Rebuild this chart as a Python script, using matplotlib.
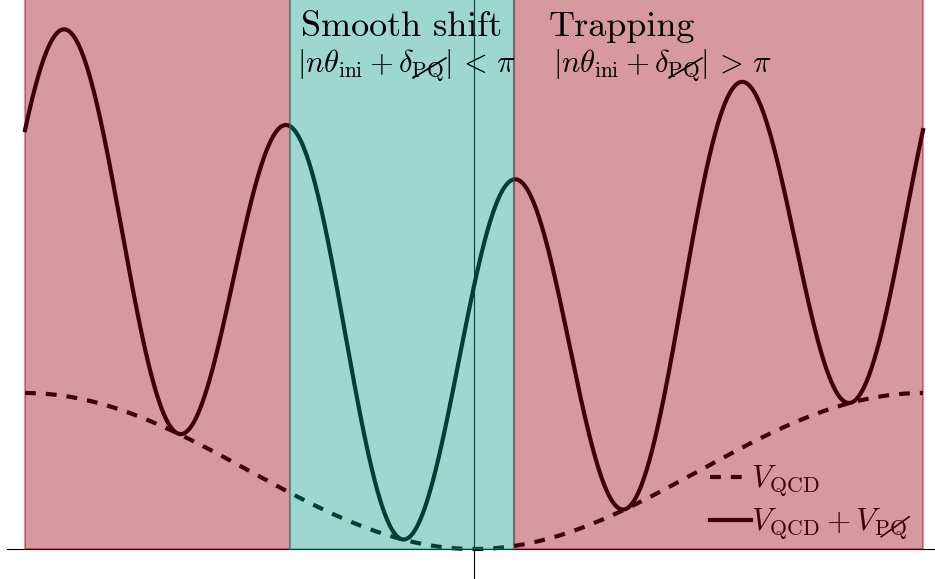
import numpy as np
import matplotlib
matplotlib.use('Agg')
import matplotlib.pyplot as plt
from matplotlib.lines import Line2D
from matplotlib.patches import Rectangle
from matplotlib.transforms import IdentityTransform

plt.rcParams['mathtext.fontset'] = 'cm'
plt.rcParams['font.family'] = 'cmr10'
plt.rcParams['axes.unicode_minus'] = False

# potential: V_QCD = 1 - cos(theta), V_PQ = A (1 - cos(n theta + delta))
n = 4
delta_pq = 2.02
amp_pq = 2.35
theta = np.linspace(-np.pi, np.pi, 3000)
v_qcd = 1 - np.cos(theta)
v_tot = v_qcd + amp_pq * (1 - np.cos(n * theta + delta_pq))

# regions: smooth shift where |n theta + delta| < pi, trapping elsewhere
edges = [-np.pi, (-np.pi - delta_pq) / n, (np.pi - delta_pq) / n, np.pi]
red = (152/255, 0, 15/255)
teal = (10/255, 157/255, 137/255)
region_colors = [red, teal, red]

labels = [r'$V_{\mathrm{QCD}}$', r'$V_{\mathrm{QCD}}+V_{\mathrm{PQ}}$']
fs_text = 26
fs_math = 22
fs_leg = 22.5

W, H = 935, 579
sx = 449 / np.pi   # px per rad
sy = 78.0          # px per unit


def px(x):
    return (x - 474) / sx


def py(y):
    return (549 - y) / sy


fig = plt.figure(figsize=(W/100, H/100), dpi=100)
ax = fig.add_axes([0, 0, 1, 1])
ax.set_xlim(px(0), px(W))
ax.set_ylim(py(H), py(0))

ax.plot(theta, v_qcd, color='k', lw=3, ls='--', dashes=(2.6, 2.4), label=labels[0])
ax.plot(theta, v_tot, color='k', lw=3, label=labels[1])

for i in range(3):
    ax.add_patch(Rectangle((edges[i], 0), edges[i+1] - edges[i], 10,
                           facecolor=region_colors[i], edgecolor=region_colors[i],
                           alpha=0.4, lw=1.5, zorder=6))

for s in ['top', 'right']:
    ax.spines[s].set_visible(False)
ax.spines['left'].set_position(('data', 0))
ax.spines['bottom'].set_position(('data', 0))
ax.spines['bottom'].set_bounds(-1.04*np.pi, 4)
ax.set_xticks([])
ax.set_yticks([])

leg = ax.legend(loc='upper left', bbox_to_anchor=(710/W, 1 - 464/H),
                bbox_transform=fig.transFigure, frameon=False, fontsize=fs_leg,
                handlelength=1.3, handletextpad=0.02, borderpad=0,
                borderaxespad=0, labelspacing=0.25)
leg.set_zorder(5)

mid = 0.5 * (edges[1] + edges[2])
math_lt = r'$|n\theta_{\mathrm{ini}}+\delta_{\mathrm{PQ}}|\,<\,\pi$'
math_gt = r'$|n\theta_{\mathrm{ini}}+\delta_{\mathrm{PQ}}|\,>\,\pi$'
ax.text(mid, py(36), 'Smooth shift', ha='center', va='baseline', fontsize=fs_text, zorder=7)
t1 = ax.text(px(297), py(72), math_lt, ha='left', va='baseline', fontsize=fs_math, zorder=7)
ax.text(px(549), py(36), 'Trapping', ha='left', va='baseline', fontsize=fs_text, zorder=7)
t2 = ax.text(px(553), py(72), math_gt, ha='left', va='baseline', fontsize=fs_math, zorder=7)

# slashed PQ subscripts
fig.canvas.draw()
rend = fig.canvas.get_renderer()


def width(s, size):
    t = ax.text(0, 0, s, fontsize=size)
    w = t.get_window_extent(rend).width
    t.remove()
    return w


def descent(s, size):
    t = ax.text(100, 100, s, fontsize=size, va='baseline', transform=IdentityTransform())
    d = 100 - t.get_window_extent(rend).y0
    t.remove()
    return d


def slash(x0, x1, base, z):
    ln = Line2D([x0 - 1, x1 + 2], [base - 6, base + 14], transform=IdentityTransform(),
                color='k', lw=1.2, zorder=z, clip_on=False)
    ax.add_artist(ln)


pre0 = r'$|n\theta_{\mathrm{ini}}+\delta$'
pre1 = r'$|n\theta_{\mathrm{ini}}+\delta_{\mathrm{PQ}}$'
base = H - 72
for t in [t1, t2]:
    L = t.get_window_extent(rend).x0
    slash(L + width(pre0, fs_math), L + width(pre1, fs_math), base, 7)

lt = leg.get_texts()[1]
bb = lt.get_window_extent(rend)
lbase = bb.y0 + descent(labels[1], fs_leg)
slash(bb.x0 + width(r'$V_{\mathrm{QCD}}+V$', fs_leg), bb.x0 + width(labels[1], fs_leg), lbase, 5.5)

fig.savefig('out.png', dpi=100)
